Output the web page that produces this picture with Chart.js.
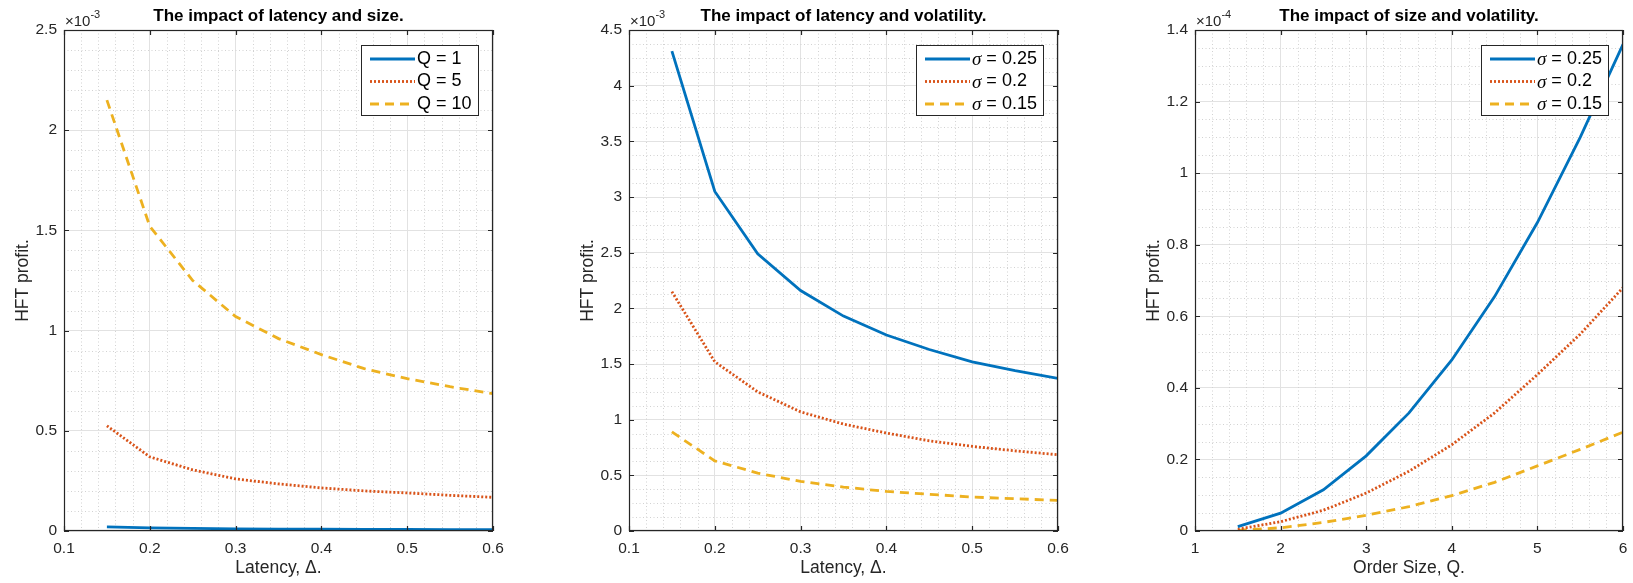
<!DOCTYPE html>
<html>
<head>
<meta charset="utf-8">
<script src="https://cdn.jsdelivr.net/npm/chart.js@4.4.1/dist/chart.umd.min.js"></script>
<style>
  html, body { margin: 0; padding: 0; background: #fff; }
  body { width: 1633px; height: 583px; position: relative; overflow: hidden; }
  .panel { position: absolute; top: 0; height: 583px; }
</style>
</head>
<body>
<div class="panel" id="p1"><canvas id="chart1"></canvas></div>
<div class="panel" id="p2"><canvas id="chart2"></canvas></div>
<div class="panel" id="p3"><canvas id="chart3"></canvas></div>
<script>
// Data (profit values in units of the axis exponent: 1e-3, 1e-3, 1e-4)
const latency = [0.15, 0.2, 0.25, 0.3, 0.35, 0.4, 0.45, 0.5, 0.55, 0.6];
const profitQ1 = [0.021, 0.016, 0.013, 0.011, 0.0097, 0.0088, 0.0081, 0.0076, 0.0072, 0.0068];
const profitQ5 = [0.525, 0.37, 0.305, 0.26, 0.235, 0.215, 0.2, 0.19, 0.178, 0.168];
const profitQ10 = [2.15, 1.52, 1.25, 1.07, 0.96, 0.88, 0.81, 0.76, 0.72, 0.685];

const profitLatSigma25 = [4.31, 3.05, 2.49, 2.16, 1.93, 1.76, 1.63, 1.52, 1.44, 1.37];
const profitLatSigma20 = [2.15, 1.52, 1.25, 1.07, 0.96, 0.88, 0.81, 0.76, 0.72, 0.685];
const profitLatSigma15 = [0.89, 0.63, 0.52, 0.445, 0.395, 0.355, 0.33, 0.305, 0.29, 0.275];

const orderSize = [1.5, 2, 2.5, 3, 3.5, 4, 4.5, 5, 5.5, 6];
const profitSizeSigma25 = [0.012, 0.05, 0.115, 0.21, 0.33, 0.478, 0.655, 0.862, 1.1, 1.36];
const profitSizeSigma20 = [0.005, 0.026, 0.058, 0.106, 0.167, 0.241, 0.33, 0.437, 0.55, 0.68];
const profitSizeSigma15 = [0.002, 0.009, 0.024, 0.044, 0.068, 0.099, 0.136, 0.182, 0.228, 0.276];

// Tick labels
const latencyTicks = [0.1, 0.2, 0.3, 0.4, 0.5, 0.6];
const sizeTicks = [1, 2, 3, 4, 5, 6];
const profitTicks1 = [0, 0.5, 1, 1.5, 2, 2.5];
const profitTicks2 = [0, 0.5, 1, 1.5, 2, 2.5, 3, 3.5, 4, 4.5];
const profitTicks3 = [0, 0.2, 0.4, 0.6, 0.8, 1, 1.2, 1.4];

const FONT = '"Liberation Sans", Arial, sans-serif';
const AXIS_COLOR = '#262626';
Chart.defaults.font.family = FONT;
Chart.defaults.color = AXIS_COLOR;

const lineStyles = {
  solid:  { borderColor: '#0072BD', borderDash: [] },
  dotted: { borderColor: '#D95319', borderDash: [2, 2] },
  dashed: { borderColor: '#EDB120', borderDash: [9, 6] }
};

function series(label, xs, ys, style) {
  return Object.assign({
    label: label,
    data: xs.map((x, i) => ({ x: x, y: ys[i] })),
    borderWidth: 2.8,
    pointRadius: 0,
    fill: false,
    tension: 0,
    borderCapStyle: 'butt'
  }, lineStyles[style]);
}

function minorValues(ticks, n) {
  const out = [];
  for (let i = 0; i < ticks.length - 1; i++) {
    for (let k = 1; k < n; k++) out.push(ticks[i] + (ticks[i + 1] - ticks[i]) * k / n);
  }
  return out;
}

function drawLabel(ctx, text, x, y) {
  ctx.textAlign = 'left';
  ctx.textBaseline = 'middle';
  ctx.fillStyle = '#000';
  if (text.charAt(0) === 'σ') {
    ctx.font = 'italic 19px "Liberation Serif", serif';
    ctx.fillText('σ', x, y + 1);
    x += ctx.measureText('σ').width;
    text = text.slice(1);
  }
  ctx.font = '18px ' + FONT;
  ctx.fillText(text, x, y);
}

function labelWidth(ctx, text) {
  let w = 0;
  if (text.charAt(0) === 'σ') {
    ctx.font = 'italic 19px "Liberation Serif", serif';
    w += ctx.measureText('σ').width;
    text = text.slice(1);
  }
  ctx.font = '18px ' + FONT;
  return w + ctx.measureText(text).width;
}

// matlab-like box, minor grid, inside ticks, legend, title and exponent
const matlabAxes = {
  id: 'matlabAxes',
  beforeDatasetsDraw(chart, args, opts) {
    const ctx = chart.ctx, a = chart.chartArea;
    const xs = chart.scales.x, ys = chart.scales.y;
    ctx.save();
    ctx.strokeStyle = '#d2d2d2';
    ctx.lineWidth = 1;
    ctx.setLineDash([1, 2.5]);
    minorValues(opts.xTicks, opts.minorX).forEach(v => {
      const px = Math.round(xs.getPixelForValue(v)) + 0.5;
      ctx.beginPath(); ctx.moveTo(px, a.top); ctx.lineTo(px, a.bottom); ctx.stroke();
    });
    minorValues(opts.yTicks, opts.minorY).forEach(v => {
      const py = Math.round(ys.getPixelForValue(v)) + 0.5;
      ctx.beginPath(); ctx.moveTo(a.left, py); ctx.lineTo(a.right, py); ctx.stroke();
    });
    ctx.restore();
  },
  afterDatasetsDraw(chart, args, opts) {
    const ctx = chart.ctx, a = chart.chartArea;
    const xs = chart.scales.x, ys = chart.scales.y;
    ctx.save();
    ctx.strokeStyle = AXIS_COLOR;
    ctx.lineWidth = 1.2;
    ctx.setLineDash([]);
    ctx.strokeRect(Math.round(a.left) + 0.5, Math.round(a.top) + 0.5,
      Math.round(a.right - a.left) - 1, Math.round(a.bottom - a.top) - 1);
    const t = 5;
    ctx.beginPath();
    opts.xTicks.forEach(v => {
      const px = Math.round(xs.getPixelForValue(v)) + 0.5;
      ctx.moveTo(px, a.bottom); ctx.lineTo(px, a.bottom - t);
      ctx.moveTo(px, a.top); ctx.lineTo(px, a.top + t);
    });
    opts.yTicks.forEach(v => {
      const py = Math.round(ys.getPixelForValue(v)) + 0.5;
      ctx.moveTo(a.left, py); ctx.lineTo(a.left + t, py);
      ctx.moveTo(a.right, py); ctx.lineTo(a.right - t, py);
    });
    ctx.stroke();

    // legend
    const items = chart.data.datasets;
    const textW = Math.max.apply(null, items.map(d => labelWidth(ctx, d.label)));
    const w = Math.round(9 + 45 + 2 + textW + 6);
    const h = 70;
    const x0 = Math.round(a.right - 15 - w), y0 = Math.round(a.top + 15);
    ctx.fillStyle = '#fff';
    ctx.fillRect(x0, y0, w, h);
    ctx.strokeStyle = AXIS_COLOR;
    ctx.lineWidth = 1;
    ctx.strokeRect(x0 + 0.5, y0 + 0.5, w, h);
    items.forEach((d, i) => {
      const cy = y0 + 14 + i * 22.5;
      ctx.strokeStyle = d.borderColor;
      ctx.lineWidth = d.borderWidth;
      ctx.setLineDash(d.borderDash);
      ctx.beginPath(); ctx.moveTo(x0 + 9, cy); ctx.lineTo(x0 + 54, cy); ctx.stroke();
      ctx.setLineDash([]);
      drawLabel(ctx, d.label, x0 + 56, cy);
    });
    ctx.restore();
  },
  afterDraw(chart, args, opts) {
    const ctx = chart.ctx, a = chart.chartArea;
    ctx.save();
    ctx.fillStyle = '#000';
    ctx.font = 'bold 17px ' + FONT;
    ctx.textAlign = 'center';
    ctx.textBaseline = 'alphabetic';
    ctx.fillText(opts.title, (a.left + a.right) / 2, 21);

    ctx.fillStyle = AXIS_COLOR;
    ctx.textAlign = 'left';
    ctx.font = '15px ' + FONT;
    const base = '×10';
    ctx.fillText(base, a.left + 1, a.top - 4);
    const bw = ctx.measureText(base).width;
    ctx.font = '11px ' + FONT;
    ctx.fillText(opts.exponent, a.left + 1 + bw, a.top - 12.5);
    ctx.restore();
  }
};

const panels = [
  {
    canvas: 'chart1', box: 'p1', left: 13, plotLeft: 64, plotRight: 493,
    title: 'The impact of latency and size.', exponent: '-3', xLabel: 'Latency, Δ.',
    xMin: 0.1, xMax: 0.6, xTicks: latencyTicks, yMax: 2.5, yTicks: profitTicks1, minorX: 5, minorY: 5,
    datasets: [
      series('Q = 1', latency, profitQ1, 'solid'),
      series('Q = 5', latency, profitQ5, 'dotted'),
      series('Q = 10', latency, profitQ10, 'dashed')
    ]
  },
  {
    canvas: 'chart2', box: 'p2', left: 578, plotLeft: 629, plotRight: 1058,
    title: 'The impact of latency and volatility.', exponent: '-3', xLabel: 'Latency, Δ.',
    xMin: 0.1, xMax: 0.6, xTicks: latencyTicks, yMax: 4.5, yTicks: profitTicks2, minorX: 5, minorY: 4,
    datasets: [
      series('σ = 0.25', latency, profitLatSigma25, 'solid'),
      series('σ = 0.2', latency, profitLatSigma20, 'dotted'),
      series('σ = 0.15', latency, profitLatSigma15, 'dashed')
    ]
  },
  {
    canvas: 'chart3', box: 'p3', left: 1144, plotLeft: 1195, plotRight: 1623,
    title: 'The impact of size and volatility.', exponent: '-4', xLabel: 'Order Size, Q.',
    xMin: 1, xMax: 6, xTicks: sizeTicks, yMax: 1.4, yTicks: profitTicks3, minorX: 5, minorY: 4,
    datasets: [
      series('σ = 0.25', orderSize, profitSizeSigma25, 'solid'),
      series('σ = 0.2', orderSize, profitSizeSigma20, 'dotted'),
      series('σ = 0.15', orderSize, profitSizeSigma15, 'dashed')
    ]
  }
];

const fmt = v => String(Math.round(v * 1000) / 1000);

panels.forEach(p => {
  // must exceed the half-width of the last x label plus tick padding
  const padRight = 22;
  const box = document.getElementById(p.box);
  box.style.left = p.left + 'px';
  box.style.width = (p.plotRight - p.left + padRight) + 'px';

  new Chart(document.getElementById(p.canvas), {
    type: 'line',
    data: { datasets: p.datasets },
    plugins: [matlabAxes],
    options: {
      responsive: true,
      maintainAspectRatio: false,
      animation: false,
      devicePixelRatio: 1,
      layout: { padding: { left: 0, right: padRight, top: 30, bottom: 0 } },
      plugins: {
        legend: { display: false },
        tooltip: { enabled: false },
        matlabAxes: {
          title: p.title, exponent: p.exponent,
          xTicks: p.xTicks, yTicks: p.yTicks, minorX: p.minorX, minorY: p.minorY
        }
      },
      scales: {
        x: {
          type: 'linear',
          min: p.xMin,
          max: p.xMax,
          afterBuildTicks: s => { s.ticks = p.xTicks.map(v => ({ value: v })); },
          afterFit: s => { s.height = 52; },
          ticks: { callback: fmt, font: { size: 15.5 }, color: AXIS_COLOR, padding: 8, maxRotation: 0, autoSkip: false },
          grid: { color: '#e2e2e2', lineWidth: 1, drawTicks: false },
          border: { display: false },
          title: { display: true, text: p.xLabel, font: { size: 17.5 }, color: AXIS_COLOR, padding: { top: 0, bottom: 4 } }
        },
        y: {
          type: 'linear',
          min: 0,
          max: p.yMax,
          afterBuildTicks: s => { s.ticks = p.yTicks.map(v => ({ value: v })); },
          afterFit: s => { s.width = p.plotLeft - p.left; },
          ticks: { callback: fmt, font: { size: 15.5 }, color: AXIS_COLOR, padding: 7, autoSkip: false },
          grid: { color: '#e2e2e2', lineWidth: 1, drawTicks: false },
          border: { display: false },
          title: { display: true, text: 'HFT profit.', font: { size: 17.5 }, color: AXIS_COLOR, padding: 0 }
        }
      }
    }
  });
});
</script>
</body>
</html>
